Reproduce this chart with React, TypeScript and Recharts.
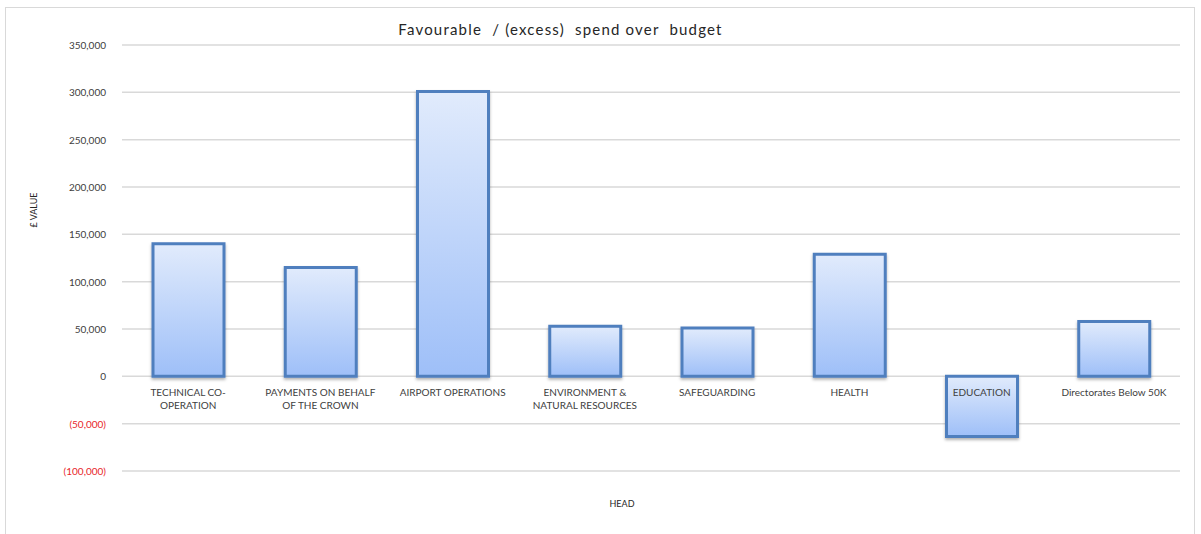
import { Bar, BarChart, CartesianGrid, XAxis, YAxis } from 'recharts'

const CATEGORIES = [
  'TECHNICAL CO-|OPERATION',
  'PAYMENTS ON BEHALF|OF THE CROWN',
  'AIRPORT OPERATIONS',
  'ENVIRONMENT &|NATURAL RESOURCES',
  'SAFEGUARDING',
  'HEALTH',
  'EDUCATION',
  'Directorates Below 50K',
]

const SPEND_VALUES = [140000, 115000, 301000, 53000, 51000, 129000, -63500, 58000]

const Y_TICKS = [-100000, -50000, 0, 50000, 100000, 150000, 200000, 250000, 300000, 350000]

const data = CATEGORIES.map((name, i) => ({ name, value: SPEND_VALUES[i] }))

const W = 1201
const H = 534
const M = { top: 45, right: 21, bottom: 33, left: 0 }
const X_AXIS_H = 30
const Y_MIN = -100000
const Y_MAX = 350000
const FONT = 'Lato, "Open Sans", sans-serif'

// y pixel of the zero line, used to hang the category labels off it like Excel does
const zeroY = M.top + ((H - M.top - M.bottom - X_AXIS_H) * Y_MAX) / (Y_MAX - Y_MIN)

function fmt(v: number) {
  const s = Math.abs(v).toLocaleString('en-GB')
  return v < 0 ? `(${s})` : s
}

function YTick({ x, y, payload }: any) {
  const v = payload.value as number
  return (
    <text x={x} y={y} dy={4} textAnchor="end" fontSize={10} fontFamily={FONT} fill={v < 0 ? '#e8262b' : '#404040'}>
      {fmt(v)}
    </text>
  )
}

function XTick({ x, payload }: any) {
  const lines = String(payload.value).split('|')
  return (
    <text x={x} y={zeroY + 20} textAnchor="middle" fontSize={10} fontFamily={FONT} fill="#404040">
      {lines.map((l, i) => (
        <tspan key={i} x={x} dy={i === 0 ? 0 : 13}>
          {l}
        </tspan>
      ))}
    </text>
  )
}

export default function App() {
  return (
    <div style={{ position: 'absolute', left: 0, top: 0, width: W, height: H, background: '#fff', fontFamily: FONT }}>
      <div
        style={{
          position: 'absolute',
          left: 5,
          top: 7,
          width: 1190,
          height: 530,
          border: '1.5px solid #d9d9d9',
          boxSizing: 'border-box',
        }}
      />
      <div
        style={{
          position: 'absolute',
          left: 0,
          width: W - 80,
          top: 20,
          textAlign: 'center',
          fontSize: 15,
          letterSpacing: 1.2,
          color: '#262626',
          whiteSpace: 'pre',
        }}
      >
        {'Favourable  / (excess)  spend over  budget'}
      </div>
      <div
        style={{
          position: 'absolute',
          left: 33,
          top: 210,
          transform: 'translate(-50%, -50%) rotate(-90deg)',
          fontSize: 9,
          color: '#262626',
          whiteSpace: 'nowrap',
        }}
      >
        £ VALUE
      </div>
      <div style={{ position: 'absolute', left: 622, top: 503, transform: 'translate(-50%, -50%)', fontSize: 9, color: '#262626' }}>
        HEAD
      </div>
      <div style={{ position: 'absolute', left: 0, top: 0 }}>
        <BarChart width={W} height={H} data={data} margin={M}>
          <defs>
            <linearGradient id="barFill" x1="0" y1="0" x2="0" y2="1">
              <stop offset="0%" stopColor="#e1ebfc" />
              <stop offset="100%" stopColor="#9ebff8" />
            </linearGradient>
            <filter id="barShadow" x="-20%" y="-20%" width="140%" height="140%">
              <feDropShadow dx="0" dy="2" stdDeviation="1.5" floodColor="#000" floodOpacity="0.3" />
            </filter>
          </defs>
          <CartesianGrid vertical={false} stroke="#d9d9d9" strokeWidth={1.5} />
          <XAxis
            dataKey="name"
            axisLine={false}
            tickLine={false}
            height={X_AXIS_H}
            tick={<XTick />}
            interval={0}
          />
          <YAxis
            domain={[Y_MIN, Y_MAX]}
            ticks={Y_TICKS}
            width={122}
            axisLine={false}
            tickLine={false}
            tick={<YTick />}
            tickMargin={10}
            interval={0}
          />
          <Bar
            dataKey="value"
            barSize={71}
            fill="url(#barFill)"
            stroke="#4f7fbe"
            strokeWidth={3}
            filter="url(#barShadow)"
            isAnimationActive={false}
          />
        </BarChart>
      </div>
    </div>
  )
}
